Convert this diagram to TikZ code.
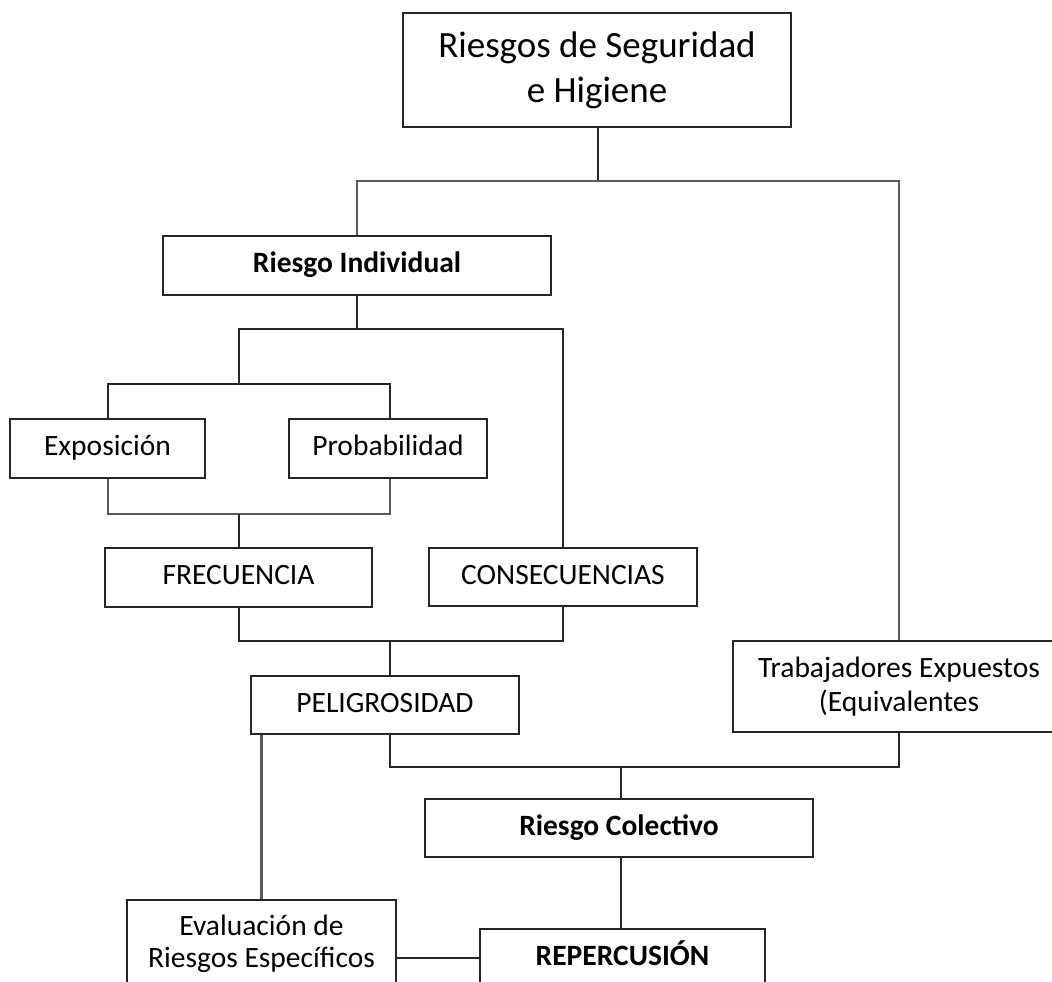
\documentclass[tikz,border=0pt]{standalone}
\usepackage{fontspec}
\setmainfont{Carlito}
\begin{document}
\begin{tikzpicture}[x=1pt,y=-1pt,
  box/.style={draw=black!85, line width=2pt, fill=white, inner sep=0pt,
    align=center, font=\fontsize{29.5}{34}\selectfont},
  oneline/.style={text height=20pt, text depth=6pt},
  link/.style={draw=black!85, line width=2pt},
  softlink/.style={draw=black!65, line width=2.4pt}]
\useasboundingbox (0,0) rectangle (1052,982);
\clip (0,0) rectangle (1052,982);
\fill[white] (0,0) rectangle (1052,982);

% boxes
\node[box, minimum width=388pt, minimum height=114pt, font=\fontsize{37}{45}\selectfont]
  (top) at (597,70) {Riesgos de Seguridad\\e Higiene};
\node[box, oneline, minimum width=388pt, minimum height=59pt, font=\bfseries\fontsize{29.5}{34}\selectfont]
  (ri) at (357,265.5) {Riesgo Individual};
\node[box, oneline, minimum width=195pt, minimum height=59pt] (exp) at (107.5,448.5) {Exposición};
\node[box, oneline, minimum width=198pt, minimum height=59pt] (prob) at (388,448.5) {Probabilidad};
\node[box, oneline, minimum width=267pt, minimum height=59pt] (frec) at (238.5,577.5) {FRECUENCIA};
\node[box, oneline, minimum width=268pt, minimum height=58pt] (cons) at (563,577) {CONSECUENCIAS};
\node[box, oneline, minimum width=268pt, minimum height=58pt] (pel) at (385,705) {PELIGROSIDAD};
\node[box, minimum width=332pt, minimum height=91pt] (trab) at (899,686.5)
  {Trabajadores Expuestos\\(Equivalentes};
\node[box, oneline, minimum width=388pt, minimum height=58pt, font=\bfseries\fontsize{29.5}{34}\selectfont]
  (rc) at (619,828) {Riesgo Colectivo};
\node[box, oneline, minimum width=285pt, minimum height=58pt, font=\bfseries\fontsize{29.5}{34}\selectfont]
  (rep) at (622.5,958) {REPERCUSIÓN};
\node[box, minimum width=269pt, minimum height=88pt, font=\fontsize{29.5}{32}\selectfont]
  (eval) at (261.5,944) {Evaluación de\\Riesgos Específicos};

% junction points
\coordinate (j1) at (598,181);
\coordinate (j2) at (357,329);
\coordinate (j3) at (239,384);
\coordinate (j4) at (239,514);
\coordinate (j5) at (390,641);
\coordinate (j6) at (621,767);

% connectors
\path[link] (top.south -| j1) -- (j1);
\path[softlink] (ri.north) |- (j1) -| (trab.north);
\path[link] (ri.south) -- (j2);
\path[link] (j3) |- (j2) -| (cons.north);
\path[link] (exp.north -| 108,0) |- (j3) -| (prob.north -| 390,0);
\path[softlink] (exp.south -| 108,0) |- (j4) -| (prob.south -| 390,0);
\path[link] (j4) -- (frec.north -| j4);
\path[link] (frec.south -| j4) |- (j5) -| (cons.south);
\path[link] (j5) -- (pel.north -| j5);
\path[link] (pel.south -| j5) |- (j6) -| (trab.south);
\path[link] (j6) -- (rc.north -| j6);
\path[link] (rc.south -| j6) -- (rep.north -| j6);
\path[softlink] (pel.south -| eval.north) -- (eval.north);
\path[link] (eval.east |- rep.west) -- (rep.west);
\end{tikzpicture}
\end{document}
